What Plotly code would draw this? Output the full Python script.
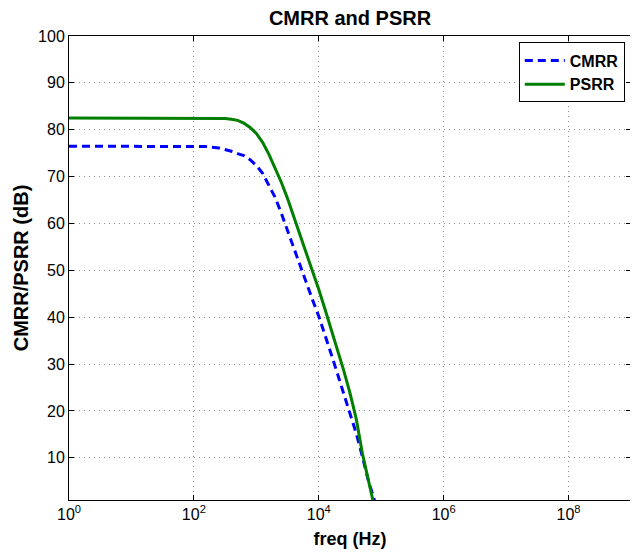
import plotly.graph_objects as go

freq = [1, 10, 100, 158, 251, 316, 398, 501, 631, 794,
        1000, 1259, 1585, 1995, 2512, 3162, 3981, 5012, 6310, 7943,
        10000, 12589, 15849, 19953, 25119, 31623, 39811, 50119, 63096,
        74131, 79433]
cmrr = [76.5, 76.5, 76.5, 76.4, 76.1, 75.8, 75.4, 74.9, 74.5, 73.6,
        72.4, 70.7, 68.3, 65.6, 62.2, 58.5, 54.6, 50.7, 47.0, 43.7,
        40.2, 36.3, 32.1, 27.9, 23.8, 19.8, 15.2, 10.2, 4.8,
        2.0, 0.5]
psrr = [82.5, 82.5, 82.5, 82.5, 82.5, 82.4, 82.25, 82.0, 81.4, 80.5,
        79.2, 77.3, 74.8, 71.9, 68.8, 65.3, 61.5, 57.7, 53.9, 50.0,
        45.9, 41.7, 37.4, 33.0, 28.6, 23.8, 18.3, 10.8, 4.5,
        0.3, -1.0]

xtick_vals = [1, 1e2, 1e4, 1e6, 1e8]
xtick_text = ["10<sup>0</sup>", "10<sup>2</sup>", "10<sup>4</sup>", "10<sup>6</sup>", "10<sup>8</sup>"]
ytick_vals = [10, 20, 30, 40, 50, 60, 70, 80, 90, 100]

font = "Liberation Sans, Arial, Helvetica, sans-serif"

# page body has an 8px margin: figure is sized/offset to compensate
W, H = 630, 545

fig = go.Figure()
fig.add_trace(go.Scatter(x=freq, y=cmrr, mode="lines", name="<b>CMRR</b>",
                         line=dict(color="#0000ff", width=3, dash="8px,5px")))
fig.add_trace(go.Scatter(x=freq, y=psrr, mode="lines", name="<b>PSRR</b>",
                         line=dict(color="#007f00", width=3)))

axis_common = dict(showline=True, linecolor="black", linewidth=1, mirror="ticks",
                   ticks="inside", ticklen=5, tickcolor="black", automargin=False,
                   showgrid=True, gridcolor="#8c8c8c", griddash="1px,4px", gridwidth=1,
                   zeroline=False, tickfont=dict(family=font, size=16, color="black"))

fig.update_xaxes(type="log", range=[0, 9], tickvals=xtick_vals, ticktext=xtick_text,
                 title=dict(text="<b>freq (Hz)</b>", font=dict(family=font, size=18, color="black"),
                            standoff=10),
                 **axis_common)
fig.update_yaxes(range=[1, 100], tickvals=ytick_vals,
                 title=dict(text="<b>CMRR/PSRR (dB)</b>", font=dict(family=font, size=20, color="black"),
                            standoff=4),
                 **axis_common)

fig.update_layout(
    width=W, height=H,
    margin=dict(l=61, r=7, t=28, b=53),
    paper_bgcolor="white", plot_bgcolor="white",
    title=dict(text="<b>CMRR and PSRR</b>", x=0.5, xref="paper", xanchor="center",
               y=1 - 9.5 / H, yanchor="middle",
               font=dict(family=font, size=20, color="black")),
    legend=dict(x=0.989, y=0.986, xanchor="right", yanchor="top",
                bgcolor="white", bordercolor="black", borderwidth=1,
                font=dict(family=font, size=16, color="black"),
                tracegroupgap=0, itemwidth=40),
    showlegend=True,
)

fig.write_html("out.html")
